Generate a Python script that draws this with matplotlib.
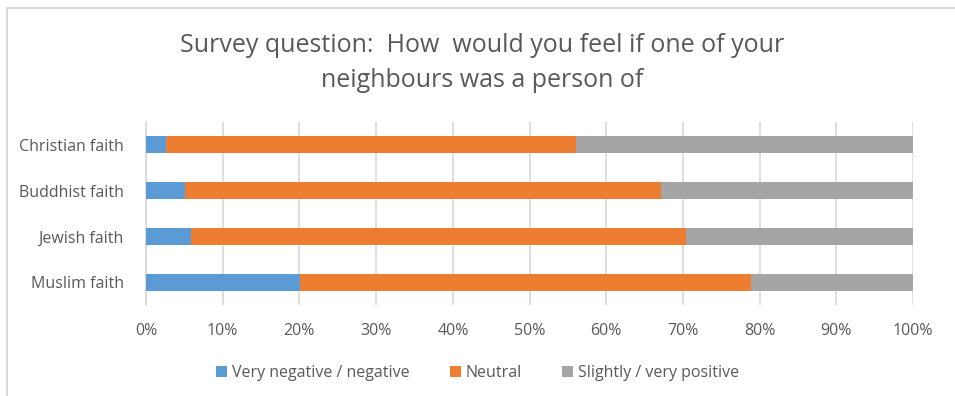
import matplotlib.pyplot as plt
from matplotlib.lines import Line2D

faiths = ["Muslim faith", "Jewish faith", "Buddhist faith", "Christian faith"]
negative = [20.1, 5.9, 5.1, 2.6]
neutral = [58.8, 64.5, 62.0, 53.5]
positive = [21.1, 29.6, 32.9, 43.9]

series = ["Very negative / negative", "Neutral", "Slightly / very positive"]
colors = ["#5B9BD5", "#ED7D31", "#A5A5A5"]
text_color = "#595959"

plt.rcParams["font.family"] = ["Open Sans", "DejaVu Sans"]

fig = plt.figure(figsize=(9.55, 3.96), dpi=100)
ax = fig.add_axes([0.1529, 0.2298, 0.8032, 0.4622])

left = [0.0] * len(faiths)
for values, name, color in zip([negative, neutral, positive], series, colors):
    ax.barh(faiths, values, left=left, height=0.37, color=color, label=name, zorder=3)
    left = [a + b for a, b in zip(left, values)]

ax.set_xlim(0, 100)
ax.set_ylim(-0.5, 3.5)
ax.set_xticks(range(0, 101, 10))
ax.set_xticklabels([f"{t}%" for t in range(0, 101, 10)])
ax.grid(axis="x", color="#D9D9D9", linewidth=1.2, zorder=0)
for s in ["top", "right", "bottom"]:
    ax.spines[s].set_visible(False)
ax.spines["left"].set_color("#D9D9D9")
ax.spines["left"].set_linewidth(1.2)
ax.tick_params(axis="both", length=0, colors=text_color, labelsize=11.5)
ax.tick_params(axis="x", pad=13)
ax.tick_params(axis="y", pad=16)

fig.text(0.505, 0.885, "Survey question:  How  would you feel if one of your",
         ha="center", va="center", fontsize=18, color=text_color)
fig.text(0.505, 0.797, "neighbours was a person of",
         ha="center", va="center", fontsize=18, color=text_color)

ax.legend(loc="center", bbox_to_anchor=(0.5, 0.5), bbox_transform=fig.transFigure,
          ncol=3, frameon=False, fontsize=11.5, labelcolor=text_color,
          handlelength=0.7, handleheight=0.7, handletextpad=0.3, columnspacing=2.5)
leg = ax.get_legend()
leg.set_bbox_to_anchor((0.5, 0.058), transform=fig.transFigure)

# chart border along the left and top edges
fig.add_artist(Line2D([0.0073, 0.0073], [0, 0.98], transform=fig.transFigure,
                      color="#D9D9D9", linewidth=1.5))
fig.add_artist(Line2D([0.0073, 1.0], [0.98, 0.98], transform=fig.transFigure,
                      color="#D9D9D9", linewidth=1.5))

fig.savefig("out.png", dpi=100)
